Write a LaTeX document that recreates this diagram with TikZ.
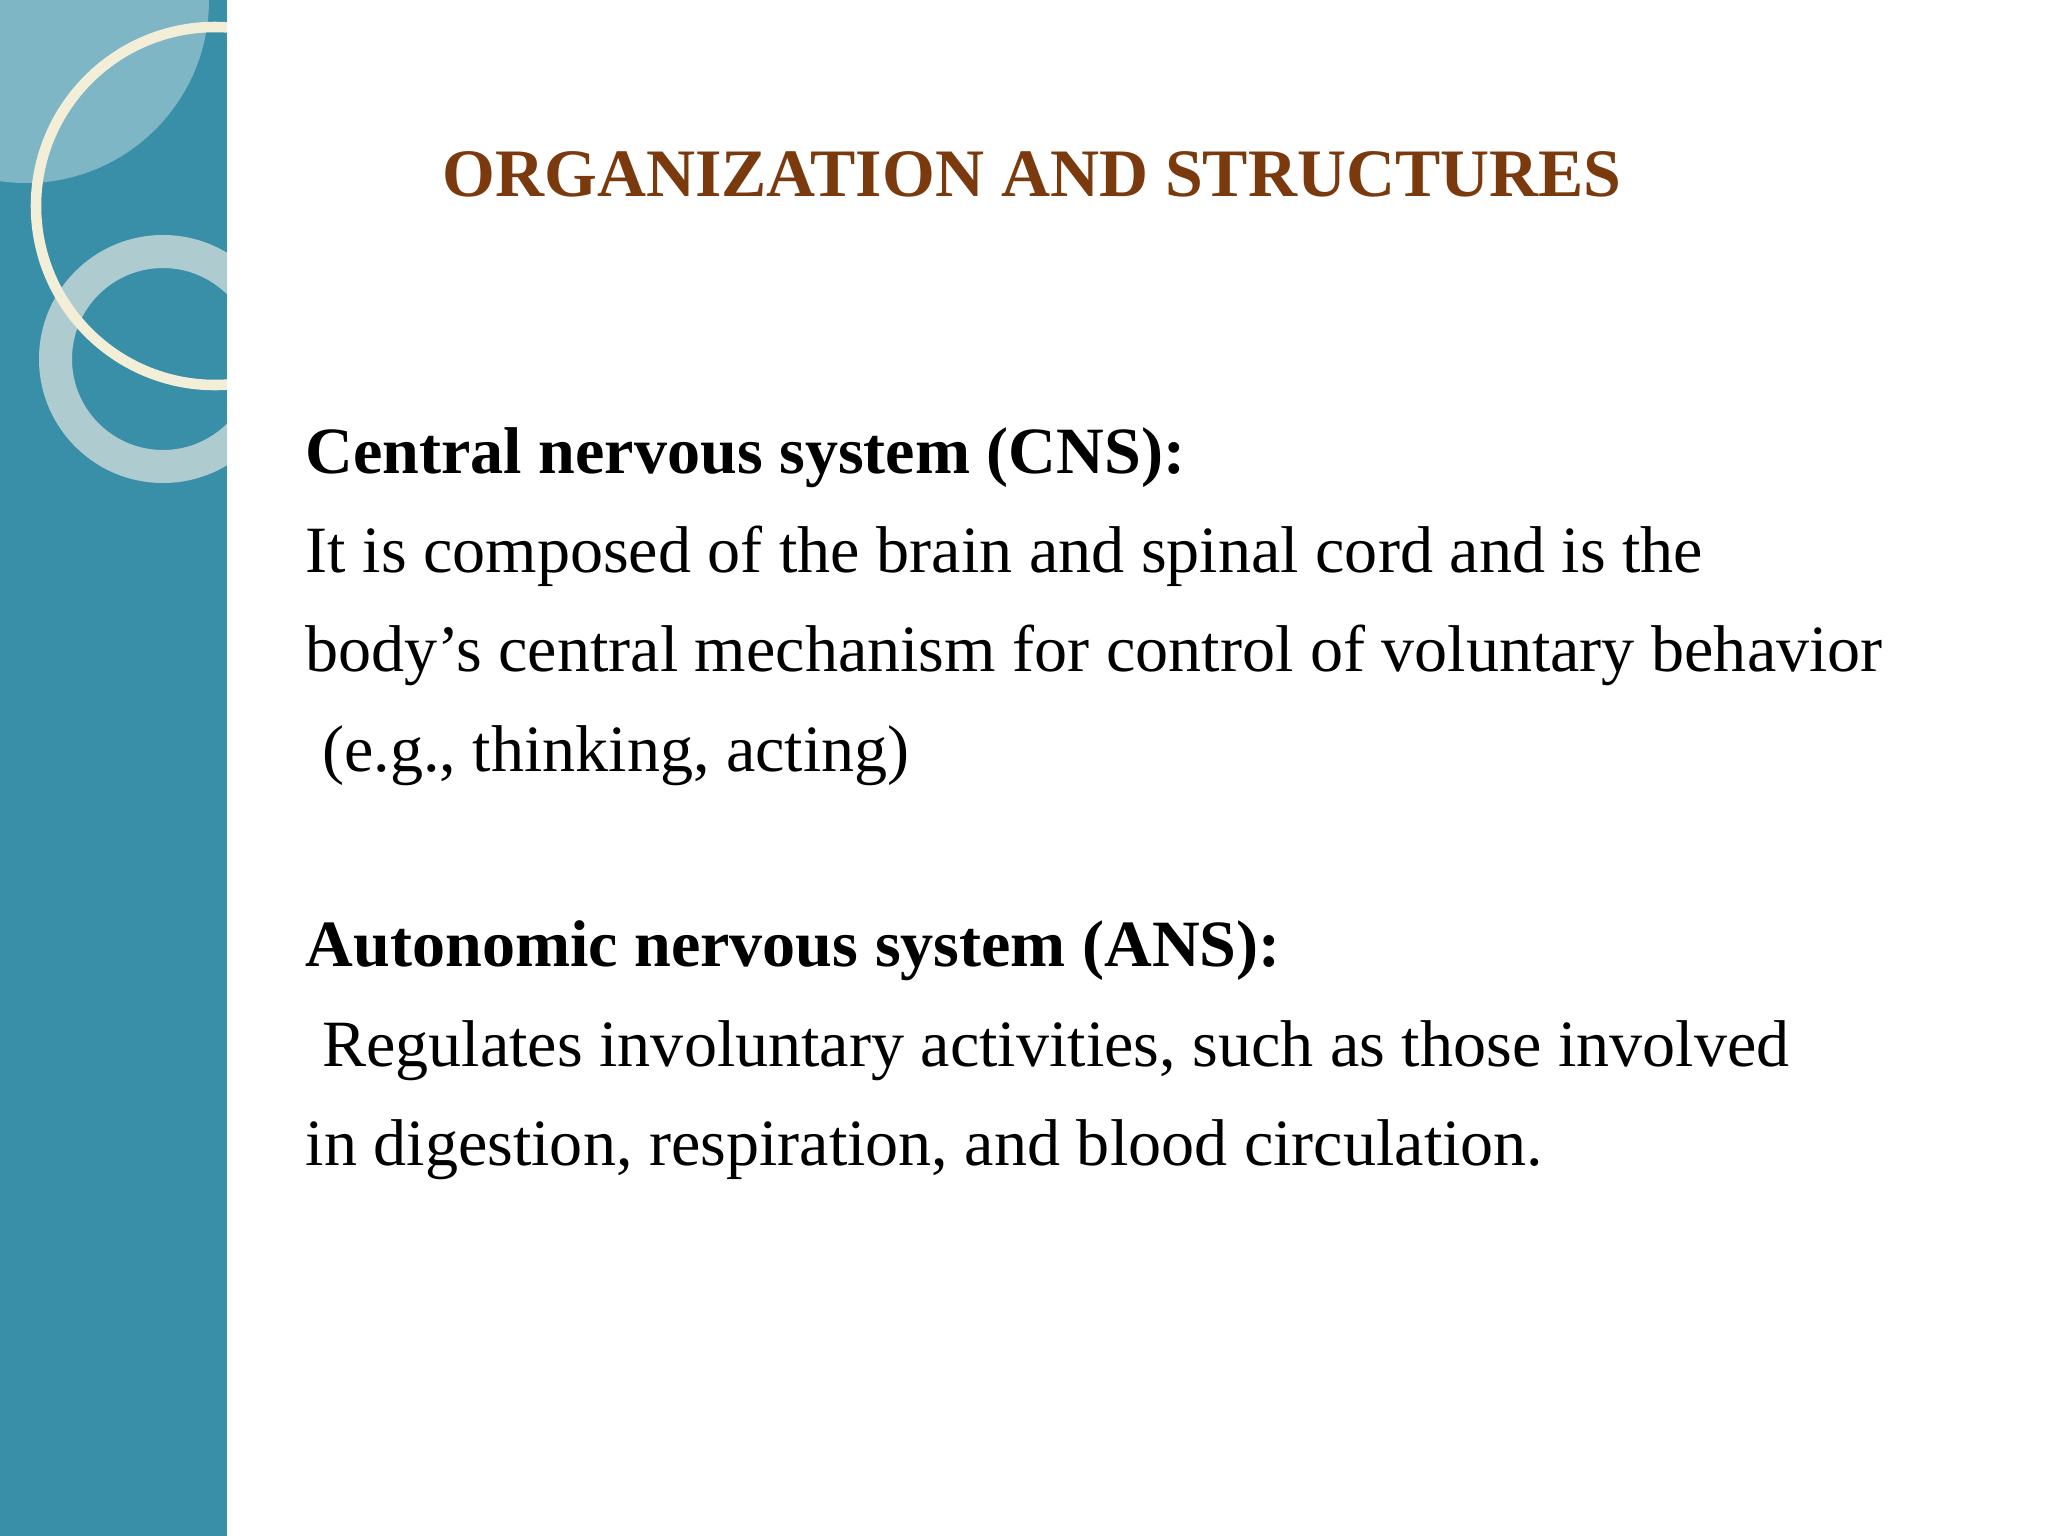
\documentclass[tikz,border=0pt]{standalone}
\usepackage{fontspec}
\setmainfont{Liberation Serif}
\definecolor{bar}{HTML}{3A8FA8}
\definecolor{titlec}{HTML}{7A3A0E}
\definecolor{ringc}{HTML}{C3D6D8}
\definecolor{creamc}{HTML}{F2EED8}
\begin{document}
\begin{tikzpicture}[x=0.01cm,y=-0.01cm,
  body/.style={anchor=base west,inner sep=0,font=\fontsize{18.8}{22}\selectfont},
  head/.style={body,font=\fontsize{18.8}{22}\selectfont\bfseries}]
\useasboundingbox (0,0) rectangle (2048,1536);
\fill[white] (0,0) rectangle (2048,1536);
\fill[bar] (0,0) rectangle (227,1536);
\begin{scope}
\clip (0,0) rectangle (227,1536);
\fill[white,opacity=0.35] (26,0) circle (183);
\fill[ringc,opacity=0.85,even odd rule] (163,359) circle (124) (163,359) circle (91);
\draw[creamc,line width=3] (215,206) circle (179);
\end{scope}
\node[anchor=base,inner sep=0,text=titlec,font=\fontsize{19.3}{22}\selectfont\bfseries] (title) at (1032,196) {ORGANIZATION AND STRUCTURES};
\node[head] (h1) at (305,473) {Central nervous system (CNS):};
\node[body] (l1) at (305,572) {It is composed of the brain and spinal cord and is the};
\node[body] (l2) at (305,671) {body’s central mechanism for control of voluntary behavior};
\node[body] (l3) at (305,771) {\ (e.g., thinking, acting)};
\node[head] (h2) at (305,966) {Autonomic nervous system (ANS):};
\node[body] (l4) at (305,1066) {\ Regulates involuntary activities, such as those involved};
\node[body] (l5) at (305,1165) {in digestion, respiration, and blood circulation.};
\end{tikzpicture}
\end{document}
